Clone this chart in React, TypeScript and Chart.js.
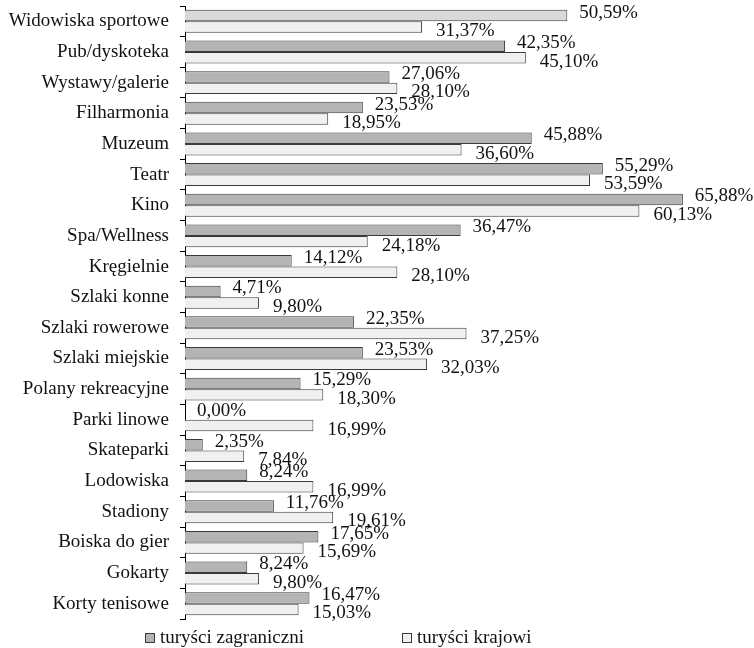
import React, { useEffect, useRef } from "react";
import { Chart, registerables } from "chart.js";

Chart.register(...registerables);

const categories = [
  "Widowiska sportowe",
  "Pub/dyskoteka",
  "Wystawy/galerie",
  "Filharmonia",
  "Muzeum",
  "Teatr",
  "Kino",
  "Spa/Wellness",
  "Kręgielnie",
  "Szlaki konne",
  "Szlaki rowerowe",
  "Szlaki miejskie",
  "Polany rekreacyjne",
  "Parki linowe",
  "Skateparki",
  "Lodowiska",
  "Stadiony",
  "Boiska do gier",
  "Gokarty",
  "Korty tenisowe",
];

const foreignTourists = [
  50.59, 42.35, 27.06, 23.53, 45.88, 55.29, 65.88, 36.47, 14.12, 4.71, 22.35,
  23.53, 15.29, 0.0, 2.35, 8.24, 11.76, 17.65, 8.24, 16.47,
];

const domesticTourists = [
  31.37, 45.1, 28.1, 18.95, 36.6, 53.59, 60.13, 24.18, 28.1, 9.8, 37.25,
  32.03, 18.3, 16.99, 7.84, 16.99, 19.61, 15.69, 9.8, 15.03,
];

const seriesNames = ["turyści zagraniczni", "turyści krajowi"];

const FONT = "'Liberation Serif', 'Times New Roman', serif";
const GRAY = "#b4b4b4";
const GRAY_FIRST = "#d9d9d9";
const LIGHT = "#f0f0f0";
const BORDER = "#3a3a3a";

const fmt = (v: number) => v.toFixed(2).replace(".", ",") + "%";

const labelPlugin = {
  id: "valueLabels",
  afterDatasetsDraw(chart: any) {
    const ctx = chart.ctx;
    ctx.save();
    ctx.font = `19px ${FONT}`;
    ctx.fillStyle = "#111";
    ctx.textAlign = "left";
    ctx.textBaseline = "middle";
    chart.data.datasets.forEach((ds: any, di: number) => {
      const meta = chart.getDatasetMeta(di);
      meta.data.forEach((el: any, i: number) => {
        const v = ds.data[i] as number;
        const dx = di === 0 ? 12 : 14;
        const dy = di === 0 ? -3 : 4;
        ctx.fillText(fmt(v), el.x + dx, el.y + dy);
      });
    });
    ctx.restore();
  },
};

const legendPlugin = {
  id: "customLegend",
  afterDraw(chart: any) {
    const ctx = chart.ctx;
    const items = [
      { x: 145, fill: GRAY },
      { x: 402, fill: LIGHT },
    ];
    ctx.save();
    ctx.font = `19px ${FONT}`;
    ctx.textBaseline = "middle";
    ctx.textAlign = "left";
    chart.data.datasets.forEach((ds: any, di: number) => {
      const it = items[di];
      const y = 633;
      ctx.fillStyle = it.fill;
      ctx.fillRect(it.x, y, 10, 10);
      ctx.strokeStyle = BORDER;
      ctx.lineWidth = 1;
      ctx.strokeRect(it.x + 0.5, y + 0.5, 9, 9);
      ctx.fillStyle = "#111";
      ctx.fillText(ds.label, it.x + 15, y + 5);
    });
    ctx.restore();
  },
};

export default function App() {
  const ref = useRef<HTMLCanvasElement | null>(null);

  useEffect(() => {
    if (!ref.current) return;
    const chart = new Chart(ref.current, {
      type: "bar",
      data: {
        labels: categories,
        datasets: [
          {
            label: seriesNames[0],
            data: foreignTourists,
            backgroundColor: foreignTourists.map((_, i) =>
              i === 0 ? GRAY_FIRST : GRAY
            ),
            borderColor: BORDER,
            borderWidth: 1,
            categoryPercentage: 0.75,
            barPercentage: 1,
          },
          {
            label: seriesNames[1],
            data: domesticTourists,
            backgroundColor: LIGHT,
            borderColor: BORDER,
            borderWidth: 1,
            categoryPercentage: 0.75,
            barPercentage: 1,
          },
        ],
      },
      options: {
        indexAxis: "y",
        animation: false,
        responsive: true,
        maintainAspectRatio: false,
        layout: { padding: { left: 0, right: 40, top: 6, bottom: 29 } },
        plugins: {
          legend: { display: false },
          tooltip: { enabled: false },
        },
        scales: {
          x: {
            display: false,
            min: 0,
            max: 70,
          },
          y: {
            afterFit: (scale: any) => {
              scale.width = 185;
              scale.paddingTop = 0;
              scale.paddingBottom = 0;
            },
            grid: {
              offset: true,
              drawOnChartArea: false,
              drawTicks: true,
              tickLength: 5,
              color: "#000",
              lineWidth: 1,
            },
            border: { display: true, color: "#000", width: 1 },
            ticks: {
              color: "#111",
              padding: 11,
              font: { family: FONT, size: 19 },
              autoSkip: false,
            },
          },
        },
      },
      plugins: [labelPlugin, legendPlugin],
    });
    return () => chart.destroy();
  }, []);

  return (
    <div
      style={{
        position: "fixed",
        left: 0,
        top: 0,
        width: 754,
        height: 648,
        background: "#fff",
      }}
    >
      <canvas ref={ref} />
    </div>
  );
}
